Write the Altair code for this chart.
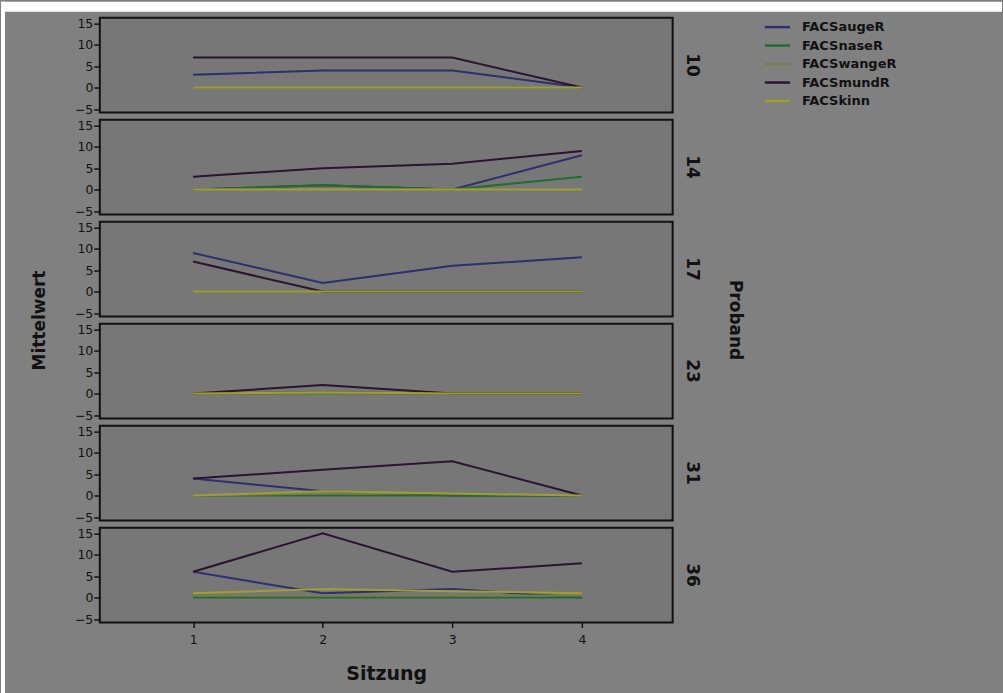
import altair as alt
import pandas as pd

sitzung = [1, 2, 3, 4]
probanden = [10, 14, 17, 23, 31, 36]
variablen = ["FACSaugeR", "FACSnaseR", "FACSwangeR", "FACSmundR", "FACSkinn"]
farben = ["#2d2f6e", "#1f6e2c", "#7a7b55", "#2b1431", "#a09e30"]

auge = {10: [3, 4, 4, 0], 14: [0, 1, 0, 8], 17: [9, 2, 6, 8],
        23: [0, 0.3, 0, 0], 31: [4, 1, 0, 0], 36: [6, 1, 2, 0]}
nase = {10: [0, 0, 0, 0], 14: [0, 1, 0, 3], 17: [0, 0, 0, 0],
        23: [0, 0, 0, 0], 31: [0, 0, 0, 0], 36: [0, 0, 0, 0]}
wange = {10: [0, 0, 0, 0], 14: [0, 0, 0, 0], 17: [0, 0, 0, 0],
         23: [0, 0, 0, 0], 31: [0, 0.5, 0.5, 0], 36: [0.5, 0.5, 0.5, 0.5]}
mund = {10: [7, 7, 7, 0], 14: [3, 5, 6, 9], 17: [7, 0, 0, 0],
        23: [0, 2, 0, 0], 31: [4, 6, 8, 0], 36: [6, 15, 6, 8]}
kinn = {10: [0, 0, 0, 0], 14: [0, 0, 0, 0], 17: [0, 0, 0, 0],
        23: [0, 0.3, 0, 0], 31: [0, 1, 0.5, 0], 36: [1, 2, 1.5, 1]}

serien = dict(zip(variablen, [auge, nase, wange, mund, kinn]))
rows = []
for var, d in serien.items():
    for p in probanden:
        for s, v in zip(sitzung, d[p]):
            rows.append({"Variable": var, "Proband": p, "Sitzung": s, "Mittelwert": v})
df = pd.DataFrame(rows)
one = pd.DataFrame({"k": [0]})

FONT = "DejaVu Sans"
INK = "#111111"
W, H, GAP = 574, 95, 7.2
LEFT = 99

xscale = alt.Scale(domain=[0.28, 4.7], nice=False, zero=False)
yscale = alt.Scale(domain=[-5.8, 16.3], nice=False, zero=False)
color = alt.Color("Variable:N", sort=variablen,
                  scale=alt.Scale(domain=variablen, range=farben),
                  legend=alt.Legend(title=None, orient="none", legendX=669.5, legendY=0,
                                    symbolType="M-1.6,0H1.6", symbolSize=250,
                                    symbolStrokeWidth=2.5, labelFontSize=13,
                                    labelFontWeight="bold", labelColor=INK,
                                    labelFont=FONT, labelOffset=15, rowPadding=1.5))


def panel(i, p):
    last = i == len(probanden) - 1
    if last:
        xaxis = alt.Axis(values=[1, 2, 3, 4], format="d", grid=False, domain=False,
                         tickSize=5, tickWidth=1.5, tickColor=INK,
                         labelFontSize=12.5, labelColor=INK, labelPadding=6, labelFont=FONT,
                         titleFontSize=19, titleFontWeight="bold", titleColor=INK,
                         titleFont=FONT, titlePadding=19)
        xt = "Sitzung"
    else:
        xaxis = None
        xt = None
    yargs = dict(values=[-5, 0, 5, 10, 15], grid=False, domain=False,
                 tickSize=6, tickWidth=1.5, tickColor=INK,
                 labelFontSize=12.5, labelColor=INK, labelPadding=1, labelFont=FONT)
    if i == 2:
        yaxis = alt.Axis(titleFontSize=17, titleFontWeight="bold", titleColor=INK,
                         titleFont=FONT, titleX=-60, titleY=H + GAP / 2,
                         titleBaseline="middle", titleAlign="center", titleAngle=270,
                         **yargs)
        yt = "Mittelwert"
    else:
        yaxis = alt.Axis(**yargs)
        yt = None
    lines = alt.Chart(df).mark_line(strokeWidth=2).encode(
        x=alt.X("Sitzung:Q", title=xt, scale=xscale, axis=xaxis),
        y=alt.Y("Mittelwert:Q", title=yt, scale=yscale, axis=yaxis),
        color=color,
        order=alt.Order("Sitzung:Q"),
    ).transform_filter(alt.datum.Proband == p)
    label = alt.Chart(pd.DataFrame({"Proband": [str(p)]})).mark_text(
        angle=90, fontSize=17, fontWeight="bold", font=FONT, color=INK,
        align="center", baseline="middle"
    ).encode(text="Proband:N", x=alt.value(W + 19), y=alt.value(H / 2))
    bottom = H + 71 if last else H + GAP + 1
    layers = [lines, label,
              alt.Chart(one).mark_rect(color="white").encode(
                  x=alt.value(-LEFT), x2=alt.value(-LEFT + 4),
                  y=alt.value(-GAP - 1 if i > 0 else -16), y2=alt.value(bottom))]
    if i == 0:
        layers.append(alt.Chart(one).mark_rect(color="white").encode(
            x=alt.value(-LEFT), x2=alt.value(1003 - LEFT),
            y=alt.value(-16), y2=alt.value(-6)))
    if i == 2:
        layers.append(alt.Chart(pd.DataFrame({"t": ["Proband"]})).mark_text(
            angle=90, fontSize=17, fontWeight="bold", font=FONT, color=INK,
            align="center", baseline="middle"
        ).encode(text="t:N", x=alt.value(W + 62), y=alt.value(H + GAP / 2)))
    return alt.layer(*layers).properties(width=W, height=H)


chart = alt.vconcat(*[panel(i, p) for i, p in enumerate(probanden)]).properties(
    spacing=GAP, bounds="flush", background="#808080", padding=0,
).configure_view(
    stroke=INK, strokeWidth=2, fill="#777777"
)

chart.save("out.html", embed_options={"renderer": "svg", "actions": False})
